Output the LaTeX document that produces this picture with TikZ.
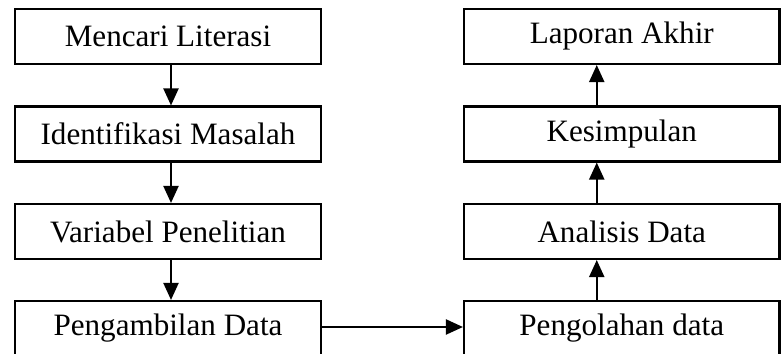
\documentclass[tikz,border=0pt]{standalone}
\usepackage{fontspec}
\setmainfont{Liberation Serif}
\usetikzlibrary{arrows.meta}

\begin{document}
\begin{tikzpicture}[scale=1,
		kotak/.style={draw, line width=1.2pt, minimum height=1.1cm, inner sep=0pt, font=\fontsize{17.7}{20}\selectfont},
		kiri/.style={kotak, minimum width=6.12cm},
		kanan/.style={kotak, minimum width=6.31cm},
		panah/.style={line width=1.2pt, -{Triangle[width=0.3cm,length=0.34cm]}}]
		\useasboundingbox (0,0) rectangle (15.62,7.08);
		\path	(3.36,6.35) node[kiri](literasi) {Mencari Literasi}
			(3.36,4.40) node[kiri](masalah) {Identifikasi Masalah}
			(3.36,2.45) node[kiri](variabel) {Variabel Penelitian}
			(3.36,0.51) node[kiri](ambil) {Pengambilan Data};
		\path	(12.435,6.35) node[kanan](laporan) {Laporan Akhir}
			(12.435,4.40) node[kanan](simpul) {Kesimpulan}
			(12.435,2.45) node[kanan](analisis) {Analisis Data}
			(12.435,0.51) node[kanan](olah) {Pengolahan data};
		\draw [panah] ([xshift=0.06cm]literasi.south) -- ([xshift=0.06cm]masalah.north);
		\draw [panah] ([xshift=0.06cm]masalah.south) -- ([xshift=0.06cm]variabel.north);
		\draw [panah] ([xshift=0.06cm]variabel.south) -- ([xshift=0.06cm]ambil.north);
		\draw [panah] ([yshift=0.03cm]ambil.east) -- ([yshift=0.03cm]olah.west);
		\draw [panah] ([xshift=-0.5cm]olah.north) -- ([xshift=-0.5cm]analisis.south);
		\draw [panah] ([xshift=-0.5cm]analisis.north) -- ([xshift=-0.5cm]simpul.south);
		\draw [panah] ([xshift=-0.5cm]simpul.north) -- ([xshift=-0.5cm]laporan.south);
	\end{tikzpicture}
\end{document}
